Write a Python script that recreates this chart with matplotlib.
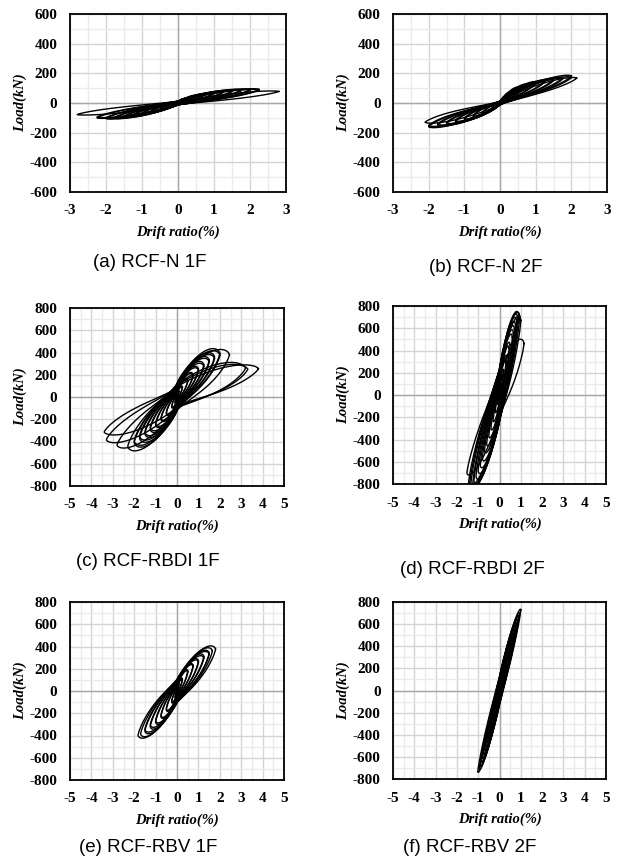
import numpy as np
import matplotlib

matplotlib.use("Agg")
import matplotlib.pyplot as plt
from matplotlib.ticker import MultipleLocator

plt.rcParams["axes.unicode_minus"] = False

# peak points of each cycle (drift %, load kN)
A_POS_DRIFT = [0.1, 0.25, 0.25, 0.5, 0.5, 0.75, 0.75, 1.0, 1.0, 1.25, 1.25, 1.5, 1.5,
               1.75, 1.75, 2.0, 2.0, 2.25, 2.25, 2.8]
A_POS_LOAD = [25, 35, 32, 50, 47, 60, 57, 68, 65, 76, 72, 82, 78, 88, 84, 90, 86, 92, 88, 78]
A_NEG_DRIFT = [-0.1, -0.25, -0.25, -0.5, -0.5, -0.75, -0.75, -1.0, -1.0, -1.25, -1.25,
               -1.5, -1.5, -1.75, -1.75, -2.0, -2.0, -2.25, -2.25, -2.8]
A_NEG_LOAD = [-20, -30, -28, -45, -42, -60, -56, -72, -68, -85, -80, -95, -90, -102, -97,
              -105, -100, -100, -95, -78]

B_POS_DRIFT = [0.1, 0.25, 0.25, 0.5, 0.5, 0.75, 0.75, 1.0, 1.0, 1.25, 1.25, 1.5, 1.5,
               1.75, 1.75, 2.0, 2.0, 2.15]
B_POS_LOAD = [40, 70, 65, 105, 98, 125, 118, 140, 133, 150, 143, 160, 152, 170, 162,
              182, 172, 168]
B_NEG_DRIFT = [-0.1, -0.25, -0.25, -0.5, -0.5, -0.75, -0.75, -1.0, -1.0, -1.25, -1.25,
               -1.5, -1.5, -1.75, -1.75, -2.0, -2.0, -2.1]
B_NEG_LOAD = [-25, -45, -42, -70, -66, -90, -85, -110, -104, -125, -118, -140, -133,
              -150, -143, -160, -152, -130]

C_POS_DRIFT = [0.1, 0.25, 0.25, 0.5, 0.5, 0.75, 0.75, 1.0, 1.0, 1.25, 1.25, 1.5, 1.5,
               1.75, 1.75, 2.0, 2.0, 2.45, 3.2, 3.3, 3.8]
C_POS_LOAD = [50, 90, 85, 150, 140, 200, 190, 250, 238, 290, 275, 330, 315, 360, 345,
              392, 375, 380, 262, 250, 255]
C_NEG_DRIFT = [-0.1, -0.25, -0.25, -0.5, -0.5, -0.75, -0.75, -1.0, -1.0, -1.25, -1.25,
               -1.5, -1.5, -1.75, -1.75, -2.0, -2.0, -2.3, -2.8, -3.3, -3.4]
C_NEG_LOAD = [-50, -90, -85, -150, -140, -200, -190, -250, -238, -290, -275, -330, -315,
              -370, -352, -410, -395, -445, -432, -385, -315]

D_POS_DRIFT = [0.1, 0.15, 0.2, 0.3, 0.35, 0.45, 0.5, 0.6, 0.65, 0.7, 0.75, 0.8, 0.85,
               0.9, 0.95, 1.0, 1.15]
D_POS_LOAD = [100, 180, 220, 300, 340, 420, 450, 520, 555, 590, 625, 660, 690, 712, 705,
              670, 462]
D_NEG_DRIFT = [-0.1, -0.2, -0.3, -0.4, -0.5, -0.6, -0.7, -0.8, -0.9, -1.0, -1.1, -1.2,
               -1.25, -1.35, -1.4, -1.45, -1.53]
D_NEG_LOAD = [-80, -150, -230, -300, -370, -440, -500, -570, -630, -680, -730, -770,
              -790, -810, -800, -790, -700]

E_POS_DRIFT = [0.1, 0.25, 0.25, 0.5, 0.5, 0.75, 0.75, 1.0, 1.0, 1.25, 1.25, 1.5, 1.5,
               1.65, 1.8]
E_POS_LOAD = [60, 110, 100, 180, 170, 230, 220, 270, 260, 310, 295, 340, 330, 360, 376]
E_NEG_DRIFT = [-0.1, -0.25, -0.25, -0.5, -0.5, -0.75, -0.75, -1.0, -1.0, -1.25, -1.25,
               -1.5, -1.5, -1.7, -1.82]
E_NEG_LOAD = [-55, -100, -95, -170, -160, -230, -220, -280, -268, -320, -305, -360, -345,
              -385, -397]

F_POS_DRIFT = [0.1, 0.15, 0.2, 0.25, 0.3, 0.35, 0.4, 0.45, 0.5, 0.55, 0.6, 0.65, 0.7,
               0.75, 0.8, 0.85, 0.9, 0.95, 1.0]
F_POS_LOAD = [110, 150, 190, 230, 270, 305, 340, 375, 410, 445, 480, 515, 550, 580, 610,
              640, 670, 700, 730]
F_NEG_DRIFT = [-0.1, -0.15, -0.2, -0.25, -0.3, -0.35, -0.4, -0.45, -0.5, -0.55, -0.6,
               -0.65, -0.7, -0.75, -0.8, -0.85, -0.9, -0.95, -1.02]
F_NEG_LOAD = [-100, -140, -180, -220, -260, -295, -330, -365, -400, -435, -470, -505,
              -540, -575, -610, -645, -680, -710, -735]

CAPTIONS = ["(a) RCF-N 1F", "(b) RCF-N 2F", "(c) RCF-RBDI 1F",
            "(d) RCF-RBDI 2F", "(e) RCF-RBV 1F", "(f) RCF-RBV 2F"]

W, H = 623, 861


def loop(dp, fp, dn, fn, width, pinch, q, n=240):
    # one closed cycle through the positive and negative peak
    th = np.linspace(0, 2 * np.pi, n)
    c, s = np.cos(th), np.sin(th)
    u = np.abs(c)
    right = c >= 0
    x = np.where(right, dp * u, -dn * c)
    fpk = np.where(right, fp, fn)
    f = fpk * u ** q - width * (fp - fn) / 2 * s * np.abs(s) ** 0.4 * (pinch + (1 - pinch) * u)
    return x, f


def draw(ax, pos_d, pos_f, neg_d, neg_f, width, pinch, q, xmax, ymax):
    ax.set_xlim(-xmax, xmax)
    ax.set_ylim(-ymax, ymax)
    ax.xaxis.set_major_locator(MultipleLocator(1))
    ax.xaxis.set_minor_locator(MultipleLocator(0.5))
    ax.yaxis.set_major_locator(MultipleLocator(200))
    ax.yaxis.set_minor_locator(MultipleLocator(100))
    ax.grid(which="major", color="#d4d4d4", lw=1.0, zorder=0)
    ax.grid(which="minor", color="#ebebeb", lw=1.0, zorder=0)
    ax.set_axisbelow(True)
    ax.axhline(0, color="#a8a8a8", lw=1.0, zorder=1)
    ax.axvline(0, color="#a8a8a8", lw=1.0, zorder=1)
    for dp, fp, dn, fn in zip(pos_d, pos_f, neg_d, neg_f):
        x, f = loop(dp, fp, dn, fn, width, pinch, q)
        ax.plot(x, f, color="black", lw=1.0, zorder=2)
    ax.tick_params(which="both", length=0, pad=9)
    for lab in ax.get_xticklabels() + ax.get_yticklabels():
        lab.set_fontfamily("Liberation Serif")
        lab.set_fontweight("bold")
        lab.set_fontsize(11)
    for sp in ax.spines.values():
        sp.set_linewidth(1.3)
        sp.set_color("black")
    lf = dict(family="Liberation Serif", weight="bold", style="italic", size=10.5)
    ax.set_xlabel("Drift ratio(%)", labelpad=6, **lf)
    ax.set_ylabel("Load(kN)", labelpad=2, **lf)


fig = plt.figure(figsize=(W / 100, H / 100), dpi=100)

# axes boxes in pixels: left, top, right, bottom
boxes = [(70, 14, 286, 192), (393, 14, 607, 192),
         (70, 308, 284, 486), (393, 306, 606, 484),
         (70, 602, 284, 780), (393, 602, 606, 779)]
panels = [
    (A_POS_DRIFT, A_POS_LOAD, A_NEG_DRIFT, A_NEG_LOAD, 0.45, 0.3, 0.9, 3, 600),
    (B_POS_DRIFT, B_POS_LOAD, B_NEG_DRIFT, B_NEG_LOAD, 0.4, 0.2, 0.85, 3, 600),
    (C_POS_DRIFT, C_POS_LOAD, C_NEG_DRIFT, C_NEG_LOAD, 0.6, 0.5, 0.8, 5, 800),
    (D_POS_DRIFT, D_POS_LOAD, D_NEG_DRIFT, D_NEG_LOAD, 0.45, 0.7, 0.9, 5, 800),
    (E_POS_DRIFT, E_POS_LOAD, E_NEG_DRIFT, E_NEG_LOAD, 0.55, 0.5, 0.9, 5, 800),
    (F_POS_DRIFT, F_POS_LOAD, F_NEG_DRIFT, F_NEG_LOAD, 0.25, 0.7, 0.95, 5, 800),
]
caption_pos = [(150, 263), (486, 267), (148, 562), (472, 570), (148, 848), (470, 847)]

for (l, t, r, b), p, cap, (cx, cy) in zip(boxes, panels, CAPTIONS, caption_pos):
    ax = fig.add_axes([l / W, 1 - b / H, (r - l) / W, (b - t) / H])
    draw(ax, *p)
    fig.text(cx / W, 1 - cy / H, cap, ha="center", va="center",
             family="Liberation Sans", fontsize=13.5)

fig.savefig("out.png", dpi=100)
